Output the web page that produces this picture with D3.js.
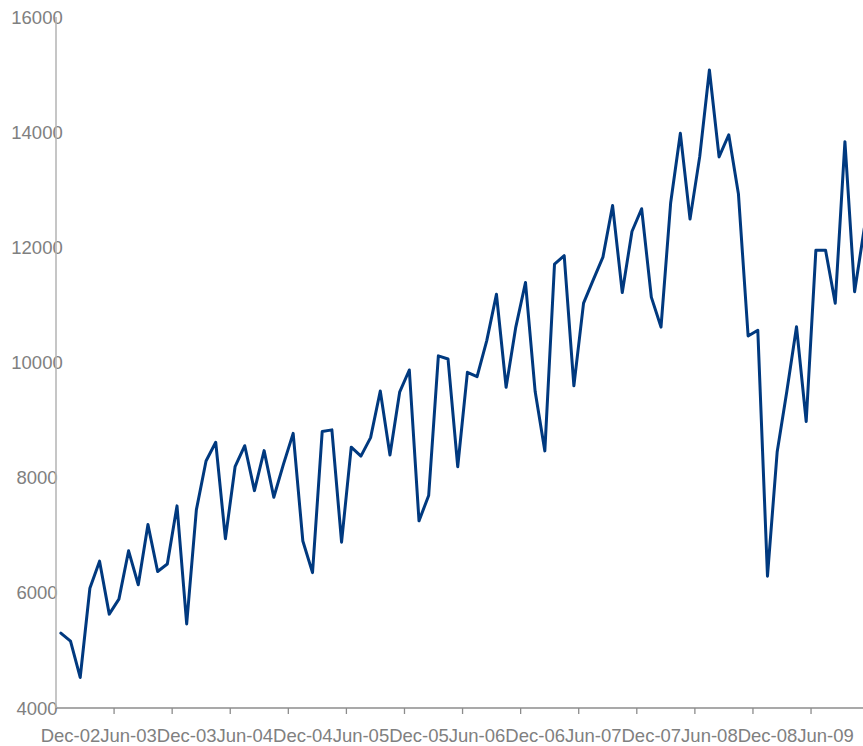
<!DOCTYPE html>
<html>
<head>
<meta charset="utf-8">
<script src="https://cdn.jsdelivr.net/npm/d3@7"></script>
<style>
  html, body { margin: 0; padding: 0; background: #ffffff; overflow: hidden; }
  svg { display: block; }
  text { font-family: "Liberation Sans", Arial, sans-serif; fill: #808080; }
</style>
</head>
<body>
<svg id="chart" width="863" height="746"></svg>
<script>
// Monthly series, Nov-02 through Oct-09
const startMonth = new Date(2002, 10, 1);
const values = [
  5300, 5160, 4530, 6080, 6550, 5630, 5890, 6730, 6140, 7185, 6370, 6500,
  7510, 5460, 7440, 8290, 8615, 6940, 8190, 8555, 7775, 8470, 7660, 8235,
  8770, 6900, 6350, 8800, 8830, 6880, 8530, 8375, 8695, 9505, 8395, 9485,
  9870, 7250, 7690, 10115, 10060, 8190, 9830, 9755, 10380, 11185, 9570, 10615,
  11390, 9495, 8465, 11710, 11855, 9595, 11030, 11435, 11830, 12725, 11215, 12275,
  12670, 11135, 10615, 12775, 13980, 12490, 13575, 15080, 13570, 13955, 12925, 10460,
  10560, 6290, 8445, 9500, 10620, 8975, 11950, 11950, 11030, 13835, 11230, 12330
];
const months = d3.timeMonth.range(startMonth, d3.timeMonth.offset(startMonth, values.length));
const tickLabels = ["Dec-02", "Jun-03", "Dec-03", "Jun-04", "Dec-04", "Jun-05", "Dec-05",
                    "Jun-06", "Dec-06", "Jun-07", "Dec-07", "Jun-08", "Dec-08", "Jun-09"];
const yTicks = [4000, 6000, 8000, 10000, 12000, 14000, 16000];

const fmt = d3.timeFormat("%b-%y");
const svg = d3.select("#chart");

const plotLeft = 56, plotTop = 17, plotBottom = 708;
const band = 9.68;
const plotRight = plotLeft + band * values.length;

const x = d3.scaleBand()
  .domain(months.map(fmt))
  .range([plotLeft, plotRight])
  .paddingInner(0).paddingOuter(0);
const y = d3.scaleLinear().domain([4000, 16000]).range([plotBottom, plotTop]);
const cx = m => x(fmt(m)) + x.bandwidth() / 2;

// x axis: baseline, ticks every six months on category boundaries, labels centred on their month
const xAxis = svg.append("g");
xAxis.append("line")
  .attr("x1", plotLeft).attr("x2", plotRight)
  .attr("y1", plotBottom).attr("y2", plotBottom)
  .attr("stroke", "#8c8c8c").attr("stroke-width", 1.3);
xAxis.selectAll("line.tick")
  .data(months.filter((m, i) => i % 6 === 0 && i > 0))
  .join("line").attr("class", "tick")
  .attr("x1", m => x(fmt(m))).attr("x2", m => x(fmt(m)))
  .attr("y1", plotBottom).attr("y2", plotBottom + 6)
  .attr("stroke", "#8c8c8c").attr("stroke-width", 1.3);
xAxis.selectAll("text")
  .data(months.filter(m => tickLabels.includes(fmt(m))))
  .join("text")
  .attr("x", cx)
  .attr("y", 742)
  .attr("text-anchor", "middle")
  .attr("font-size", "18.5px")
  .text(fmt);

// y axis: labels centred left of the axis line
const yAxis = svg.append("g");
yAxis.selectAll("text")
  .data(yTicks)
  .join("text")
  .attr("x", 37)
  .attr("y", d => y(d))
  .attr("dy", "0.36em")
  .attr("text-anchor", "middle")
  .attr("font-size", "18.5px")
  .text(d => d);
yAxis.append("line")
  .attr("x1", plotLeft).attr("x2", plotLeft)
  .attr("y1", y(16000)).attr("y2", plotBottom)
  .attr("stroke", "#b3b3b3").attr("stroke-width", 1.5);

// the series line
const line = d3.line()
  .x((d, i) => cx(months[i]))
  .y(d => y(d));
svg.append("path")
  .datum(values)
  .attr("d", line)
  .attr("fill", "none")
  .attr("stroke", "#00397f")
  .attr("stroke-width", 3)
  .attr("stroke-linejoin", "round")
  .attr("stroke-linecap", "round");
</script>
</body>
</html>
